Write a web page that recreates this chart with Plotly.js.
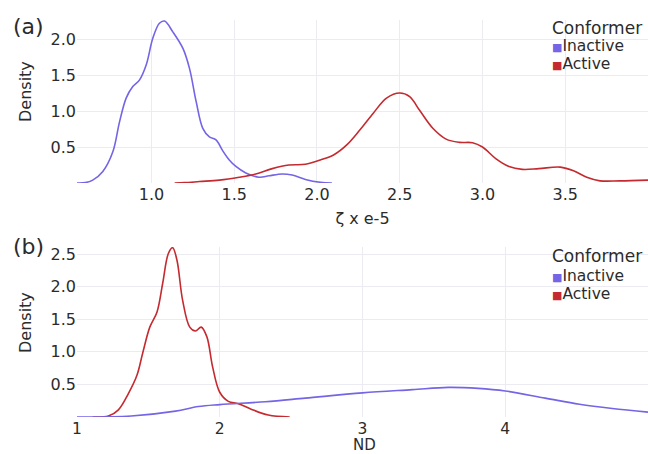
<!DOCTYPE html>
<html>
<head>
<meta charset="utf-8">
<script src="https://cdn.plot.ly/plotly-3.0.1.min.js"></script>
<style>html,body{margin:0;padding:0;background:#fff}#chart{width:648px;height:454px}</style>
</head>
<body>
<div id="chart"></div>
<script>
// Panel (a): zeta x e-5 densities
const zetaInactiveX = [0.55,0.60,0.645,0.706,0.766,0.807,0.847,0.887,0.927,0.968,1.008,1.048,1.079,1.129,1.19,1.23,1.27,1.31,1.35,1.39,1.43,1.47,1.51,1.57,1.65,1.71,1.79,1.85,1.93,2.02,2.09];
const zetaInactiveY = [0.0,0.005,0.04,0.16,0.43,0.85,1.18,1.34,1.43,1.64,2.01,2.22,2.25,2.10,1.87,1.59,1.13,0.76,0.64,0.60,0.45,0.32,0.23,0.14,0.08,0.10,0.125,0.11,0.05,0.01,0.0];
const zetaActiveX = [1.14,1.20,1.29,1.41,1.53,1.63,1.73,1.83,1.93,2.02,2.10,2.18,2.26,2.34,2.42,2.50,2.56,2.62,2.70,2.78,2.86,2.94,3.00,3.08,3.16,3.24,3.34,3.47,3.55,3.63,3.71,3.83,4.0];
const zetaActiveY = [0.0,0.005,0.02,0.04,0.08,0.125,0.20,0.25,0.26,0.32,0.39,0.53,0.74,0.97,1.18,1.25,1.20,1.01,0.76,0.61,0.565,0.56,0.50,0.34,0.23,0.19,0.20,0.22,0.17,0.08,0.03,0.03,0.04];
// Panel (b): ND densities
const ndInactiveX = [1.0,1.38,1.69,1.85,2.0,2.32,2.60,3.0,3.35,3.60,3.81,4.0,4.28,4.52,4.75,5.0];
const ndInactiveY = [0.0,0.015,0.09,0.16,0.19,0.235,0.29,0.37,0.42,0.455,0.44,0.40,0.29,0.195,0.13,0.075];
const ndActiveX = [1.11,1.22,1.29,1.36,1.42,1.46,1.51,1.56,1.60,1.64,1.67,1.70,1.74,1.79,1.83,1.87,1.91,1.95,2.00,2.06,2.13,2.22,2.34,2.49];
const ndActiveY = [0.0,0.015,0.11,0.36,0.64,0.98,1.38,1.61,2.05,2.51,2.60,2.41,1.79,1.38,1.32,1.38,1.23,0.77,0.38,0.24,0.205,0.12,0.03,0.0];

const seriesNames = ['Inactive','Active'];
const zetaTicks = [0.5,1.0,1.5,2.0,2.5,3.0,3.5];
const ndTicks = [1,2,3,4,5];
const zetaDensityTicks = [0.5,1.0,1.5,2.0];
const ndDensityTicks = [0.5,1.0,1.5,2.0,2.5];

const BLUE = '#7365e6', RED = '#c42a2f';
const FONT = 'DejaVu Sans, Verdana, sans-serif';
const TXT = '#2b2b2b';
const GRID = '#ebebf1';

function line(x, y, color, xa, ya, name) {
  return {x: x, y: y, type: 'scatter', mode: 'lines', name: name,
    line: {color: color, width: 1.6, shape: 'spline', smoothing: 1},
    xaxis: xa, yaxis: ya, showlegend: false, hoverinfo: 'x+y'};
}

const traces = [
  line(zetaInactiveX, zetaInactiveY, BLUE, 'x', 'y', seriesNames[0]),
  line(zetaActiveX, zetaActiveY, RED, 'x', 'y', seriesNames[1]),
  line(ndActiveX, ndActiveY, RED, 'x2', 'y2', seriesNames[1]),
  line(ndInactiveX, ndInactiveY, BLUE, 'x2', 'y2', seriesNames[0])
];

const W = 648, H = 454;
const px = v => v / W, py = v => 1 - v / H;

function ann(text, x, y, size, extra) {
  return Object.assign({text: text, x: px(x), y: py(y), xref: 'paper', yref: 'paper',
    xanchor: 'left', yanchor: 'middle', showarrow: false, borderpad: 0,
    font: {family: FONT, size: size, color: TXT}}, extra || {});
}
function sq(color) { return '<span style="color:' + color + ';font-size:11px">■</span>'; }

const axisCommon = {
  showgrid: true, gridcolor: GRID, gridwidth: 1, zeroline: false, showline: false,
  ticks: '', tickfont: {family: FONT, size: 16, color: TXT}, automargin: false
};

const layout = {
  width: W, height: H,
  margin: {l: 0, r: 0, t: 0, b: 0},
  paper_bgcolor: '#fff', plot_bgcolor: '#fff',
  showlegend: false,
  font: {family: FONT, color: TXT},
  xaxis: Object.assign({}, axisCommon, {
    domain: [77 / W, 1], range: [0.55, 4.0], anchor: 'y',
    tickvals: zetaTicks, ticktext: zetaTicks.map(v => v.toFixed(1)),
    title: {text: 'ζ x e-5', font: {family: FONT, size: 16, color: TXT}, standoff: 9}
  }),
  yaxis: Object.assign({}, axisCommon, {
    domain: [py(183), py(20)], range: [0, 2.265], anchor: 'x',
    tickvals: zetaDensityTicks, ticktext: zetaDensityTicks.map(v => v.toFixed(1))
  }),
  xaxis2: Object.assign({}, axisCommon, {
    domain: [77 / W, 1], range: [1, 5], anchor: 'y2',
    tickvals: ndTicks, ticktext: ndTicks.map(String),
    tickfont: {family: FONT, size: 15.5, color: TXT}
  }),
  yaxis2: Object.assign({}, axisCommon, {
    domain: [py(417), py(247)], range: [0, 2.61], anchor: 'x2',
    tickvals: ndDensityTicks, ticktext: ndDensityTicks.map(v => v.toFixed(1))
  }),
  annotations: [
    ann('(a)', 12, 26, 22),
    ann('(b)', 12, 246, 22),
    ann('Density', 25, 92, 16, {textangle: -90, xanchor: 'center'}),
    ann('Density', 25, 323, 16, {textangle: -90, xanchor: 'center'}),
    ann('ND', 364, 445, 15, {xanchor: 'center'}),
    ann('Conformer', 551, 28, 17),
    ann(sq(BLUE) + seriesNames[0], 551, 46.5, 15.5),
    ann(sq(RED) + seriesNames[1], 551, 64.5, 15.5),
    ann('Conformer', 551, 256, 17),
    ann(sq(BLUE) + seriesNames[0], 551, 275.5, 15.5),
    ann(sq(RED) + seriesNames[1], 551, 293.5, 15.5)
  ]
};

Plotly.newPlot('chart', traces, layout, {staticPlot: true, displayModeBar: false});
</script>
</body>
</html>
